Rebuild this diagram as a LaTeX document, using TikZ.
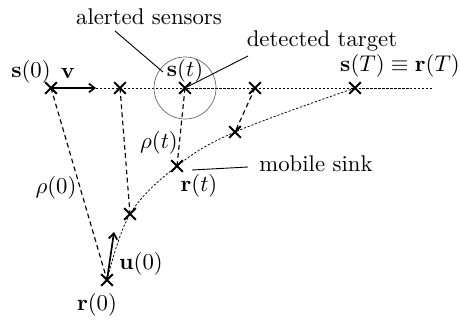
\documentclass[tikz,border=0pt]{standalone}
\usetikzlibrary{shapes.misc,arrows.meta}
\begin{document}
\begin{tikzpicture}[x=0.44pt,y=-0.44pt,
  xmk/.style={cross out,draw,line width=0.85pt,minimum size=4.3pt,inner sep=0pt},
  rholine/.style={dash pattern=on 2.1pt off 1.5pt,line width=0.5pt},
  fine/.style={dash pattern=on 1pt off 0.75pt,line width=0.33pt},
  vec/.style={-{Straight Barb[length=2.5pt,width=3.8pt]},line width=0.75pt},
  lead/.style={line width=0.4pt},
  lbl/.style={inner sep=0pt}]
\useasboundingbox (0,0) rectangle (460,321);
% sensor positions
\node[xmk] (s0) at (51,88) {};
\node[xmk] (s1) at (120,88) {};
\node[xmk] (st) at (185,88) {};
\node[xmk] (s3) at (255,88) {};
\node[xmk] (sT) at (355,88) {};
\coordinate (lineend) at (433,88);
% receiver positions
\node[xmk] (r0) at (107,280) {};
\node[xmk] (r1) at (130,214) {};
\node[xmk] (rt) at (177,166) {};
\node[xmk] (r3) at (235,132) {};
% vectors
\coordinate (vend) at (96,88);
\coordinate (uend) at (114,232);
% lines
\draw[fine] (vend) -- (lineend);
\draw[fine] plot[smooth,tension=0.6] coordinates {(r0.center) (r1.center) (rt.center) (r3.center) (sT.center)};
\draw[rholine] (s0.center) -- (r0.center);
\draw[rholine] (s1.center) -- (r1.center);
\draw[rholine] (st.center) -- (rt.center);
\draw[rholine] (s3.center) -- (r3.center);
\draw[vec] (s0.center) -- (vend);
\draw[vec] (r0.center) -- (uend);
% alert circle
\node[circle,draw=gray!80!black,line width=0.3pt,minimum size=62*0.44pt,inner sep=0pt] (alert) at (st.center) {};
% labels
\node[lbl] (ls0) at (31,72) {$\mathbf{s}(0)$};
\node[lbl] (lv) at (68,73) {$\mathbf{v}$};
\node[lbl] (lst) at (185,71) {$\mathbf{s}(t)$};
\node[lbl] (lsT) at (400,66) {$\mathbf{s}(T)\equiv\mathbf{r}(T)$};
\node[lbl] (lrhot) at (159,143) {$\rho(t)$};
\node[lbl] (lrho0) at (56,188) {$\rho(0)$};
\node[lbl] (lrt) at (199,186) {$\mathbf{r}(t)$};
\node[lbl] (lu0) at (141,264) {$\mathbf{u}(0)$};
\node[lbl] (lr0) at (97,305) {$\mathbf{r}(0)$};
\node[lbl] (alerted) at (149,17) {alerted sensors};
\node[lbl] (detected) at (322,41) {detected target};
\node[lbl] (mobile) at (316,164) {mobile sink};
% leaders
\coordinate (a1) at (115,31);
\coordinate (a2) at (163,72);
\draw[lead] (a1) -- (a2);
\coordinate (d1) at (248,56);
\draw[lead] (st.center) -- (d1);
\coordinate (m1) at (192,170);
\coordinate (m2) at (248,167);
\draw[lead] (m1) -- (m2);
\end{tikzpicture}
\end{document}
